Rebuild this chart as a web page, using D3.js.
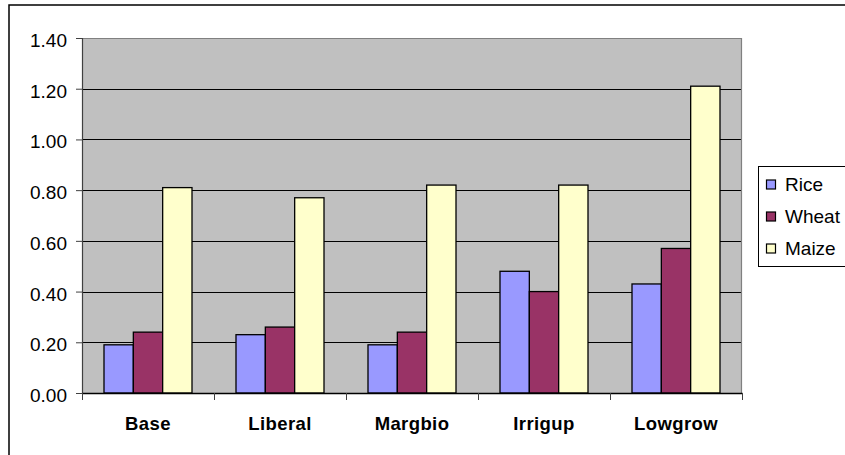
<!DOCTYPE html>
<html>
<head>
<meta charset="utf-8">
<script src="https://cdn.jsdelivr.net/npm/d3@7"></script>
<style>
  html, body { margin: 0; padding: 0; background: #fff; }
  svg { display: block; }
  text { font-family: "Liberation Sans", Arial, sans-serif; fill: #000; }
</style>
</head>
<body>
<svg id="chart" width="845" height="455"></svg>
<script>
const categories = ["Base", "Liberal", "Margbio", "Irrigup", "Lowgrow"];
const seriesNames = ["Rice", "Wheat", "Maize"];
const rice  = [0.19, 0.23, 0.19, 0.48, 0.43];
const wheat = [0.24, 0.26, 0.24, 0.40, 0.57];
const maize = [0.81, 0.77, 0.82, 0.82, 1.21];
const seriesColors = ["#9999FF", "#993366", "#FFFFCC"];
const yTicks = [0, 0.2, 0.4, 0.6, 0.8, 1.0, 1.2, 1.4];

const seriesValues = [rice, wheat, maize];
const table = categories.map((c, i) => ({
  category: c,
  values: seriesNames.map((s, j) => ({ series: s, value: seriesValues[j][i] }))
}));

const svg = d3.select("#chart");
const plot = { left: 82, right: 742, top: 38, bottom: 393 };

// outer chart border (extends past the window on right/bottom)
svg.append("rect")
  .attr("x", 9).attr("y", 5)
  .attr("width", 900).attr("height", 500)
  .attr("fill", "none").attr("stroke", "#000").attr("stroke-width", 1.5);

const x0 = d3.scaleBand().domain(categories).range([plot.left, plot.right]).padding(0);
const gap = x0.bandwidth() / 6;
const x1 = d3.scaleBand().domain(seriesNames).range([gap, x0.bandwidth() - gap]).padding(0);
const y = d3.scaleLinear().domain([0, 1.4]).range([plot.bottom, plot.top]);
const color = d3.scaleOrdinal().domain(seriesNames).range(seriesColors);

// plot background
svg.append("rect")
  .attr("x", plot.left).attr("y", plot.top)
  .attr("width", plot.right - plot.left).attr("height", plot.bottom - plot.top)
  .attr("fill", "#C0C0C0");

// gridlines
svg.append("g").selectAll("line")
  .data(yTicks.filter(d => d > 0 && d < 1.4))
  .join("line")
  .attr("x1", plot.left).attr("x2", plot.right)
  .attr("y1", d => Math.round(y(d)) + 0.5).attr("y2", d => Math.round(y(d)) + 0.5)
  .attr("stroke", "#000").attr("stroke-width", 1);

// plot border top/right gray
svg.append("path")
  .attr("d", `M${plot.left},${plot.top + 0.5}H${plot.right - 0.5}V${plot.bottom}`)
  .attr("fill", "none").attr("stroke", "#808080").attr("stroke-width", 1.2);

// bars
const groups = svg.append("g").selectAll("g")
  .data(table).join("g")
  .attr("transform", d => `translate(${x0(d.category)},0)`);
groups.selectAll("rect")
  .data(d => d.values).join("rect")
  .attr("x", d => x1(d.series))
  .attr("y", d => y(d.value))
  .attr("width", x1.bandwidth())
  .attr("height", d => y(0) - y(d.value))
  .attr("fill", d => color(d.series))
  .attr("stroke", "#000").attr("stroke-width", 1.3);

// y axis
const yAxis = svg.append("g")
  .attr("transform", `translate(${plot.left},0)`)
  .call(d3.axisLeft(y).tickValues(yTicks).tickFormat(d3.format(".2f")).tickSize(6).tickPadding(9));
yAxis.select(".domain").attr("stroke", "#404040").attr("stroke-width", 1.2);
yAxis.selectAll(".tick line").attr("stroke", "#404040");
yAxis.selectAll("text").style("font-size", "19px").attr("dy", "0.45em");

// x axis
const xAxis = svg.append("g")
  .attr("transform", `translate(0,${plot.bottom})`)
  .call(d3.axisBottom(x0).tickSize(0).tickPadding(24));
xAxis.select(".domain").attr("stroke", "#000").attr("stroke-width", 1.5);
xAxis.selectAll("text").style("font-size", "18.5px").style("font-weight", "bold")
  .style("letter-spacing", "0.4px").attr("dy", "0.71em");
// category boundary ticks
svg.append("g").selectAll("line")
  .data(categories.concat(["__end"]))
  .join("line")
  .attr("x1", (d, i) => (i < categories.length ? x0(d) : plot.right) + 0.5)
  .attr("x2", (d, i) => (i < categories.length ? x0(d) : plot.right) + 0.5)
  .attr("y1", plot.bottom).attr("y2", plot.bottom + 7)
  .attr("stroke", "#404040").attr("stroke-width", 1);

// legend
const lg = svg.append("g");
lg.append("rect")
  .attr("x", 758.5).attr("y", 166.5)
  .attr("width", 120).attr("height", 100)
  .attr("fill", "#fff").attr("stroke", "#000").attr("stroke-width", 1);
const items = lg.selectAll("g.item").data(seriesNames).join("g")
  .attr("class", "item")
  .attr("transform", (d, i) => `translate(766,${184.5 + i * 32})`);
items.append("rect")
  .attr("x", 0.5).attr("y", -4.5)
  .attr("width", 9).attr("height", 9)
  .attr("fill", d => color(d)).attr("stroke", "#000").attr("stroke-width", 1.2);
items.append("text")
  .attr("x", 19).attr("y", 0).attr("dy", "0.36em")
  .style("font-size", "19px")
  .text(d => d);
</script>
</body>
</html>
